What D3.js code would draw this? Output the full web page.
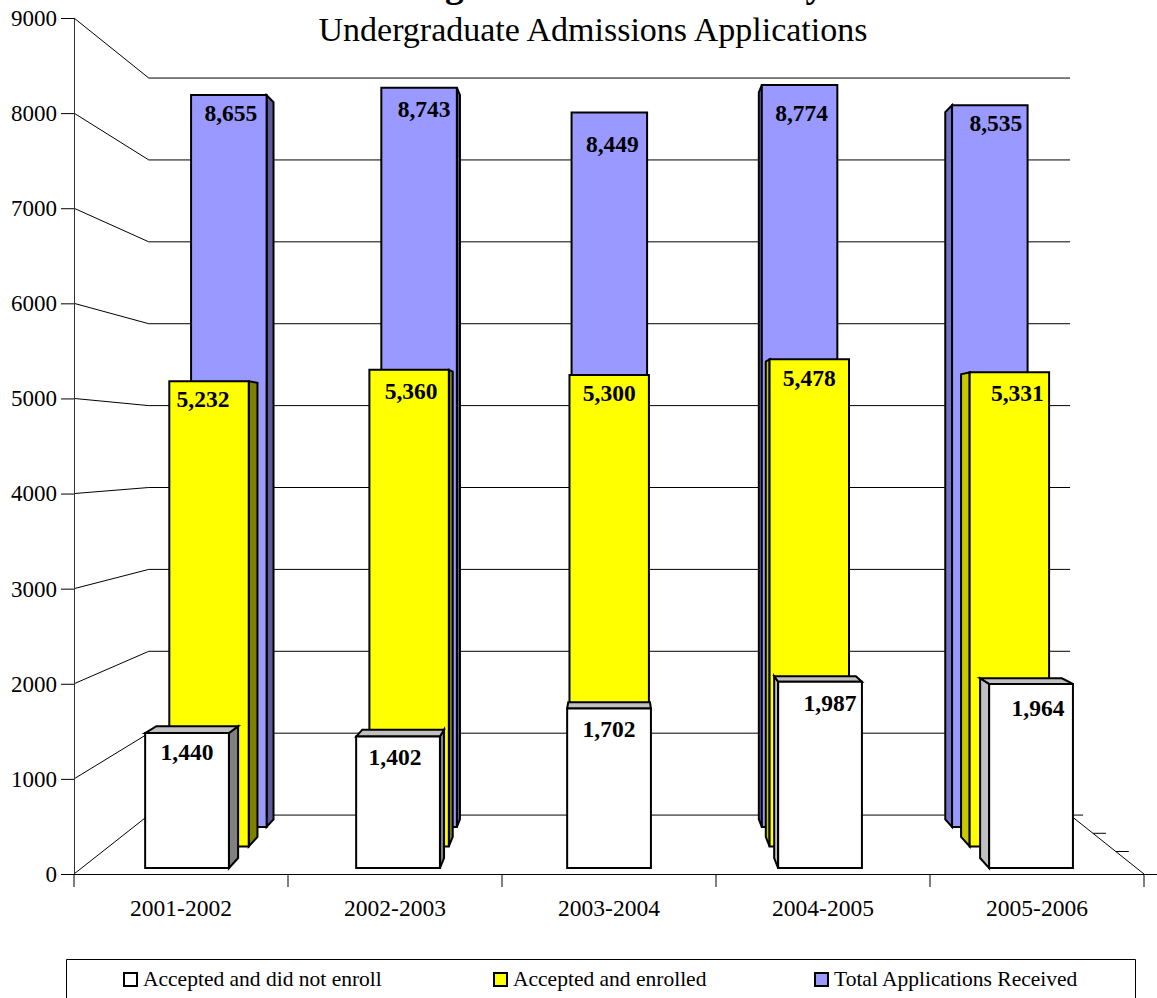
<!DOCTYPE html>
<html>
<head>
<meta charset="utf-8">
<title>Undergraduate Admissions Applications</title>
<script src="https://cdn.jsdelivr.net/npm/d3@7"></script>
<style>
  body { margin: 0; background: #fff; }
  svg { display: block; }
  text { font-family: "Liberation Serif", serif; fill: #000; }
</style>
</head>
<body>
<div id="chart"></div>
<script>
var titleLines = ["Youngstown State University", "Undergraduate Admissions Applications"];
var categories = ["2001-2002", "2002-2003", "2003-2004", "2004-2005", "2005-2006"];
var yTicks = [0, 1000, 2000, 3000, 4000, 5000, 6000, 7000, 8000, 9000];
var seriesNames = ["Accepted and did not enroll", "Accepted and enrolled", "Total Applications Received"];
var acceptedNotEnrolled = [1440, 1402, 1702, 1987, 1964];
var acceptedEnrolled = [5232, 5360, 5300, 5478, 5331];
var totalApplications = [8655, 8743, 8449, 8774, 8535];

// the labels in the original are not placed consistently, so each one gets a nudge from its bar top
var labelDx = [[0, -3, 0, 10, 7], [-6, 2, 0, 0, 8], [2, 5, 3, 2, 6]];
var labelDy = [[27, 28, 29, 29, 32], [26, 29, 26, 27, 29], [26, 29, 39, 36, 26]];

var svg = d3.select("#chart").append("svg").attr("width", 1157).attr("height", 998);

var x = d3.scaleBand().domain(categories).range([74, 1144]).paddingInner(0.603).paddingOuter(0.3015);
var y = d3.scaleLinear().domain([0, 9000]).range([874, 18]);

// perspective: everything shrinks towards this point as it moves back
var vanishX = 612, vanishY = 450;
var backWall = 0.861;
function project(px, py, s) {
  return [vanishX + s * (px - vanishX), vanishY + s * (py - vanishY)];
}
function poly(points) {
  return points.map(function(p) { return p.join(","); }).join(" ");
}

/* back wall, left wall and floor */
var walls = svg.append("g").attr("stroke", "#000").attr("stroke-width", 1).attr("fill", "none");
yTicks.forEach(function(v) {
  var b0 = project(74, y(v), backWall);
  var b1 = project(1144, y(v), backWall);
  if (v > 0) {
    walls.append("line").attr("x1", b0[0]).attr("y1", b0[1]).attr("x2", b1[0]).attr("y2", b1[1]);
  }
  walls.append("line").attr("x1", 74).attr("y1", y(v)).attr("x2", b0[0]).attr("y2", b0[1]);
});
var floorBack = project(74, y(0), backWall);
var floorBackRight = project(1144, y(0), backWall);
walls.append("line").attr("x1", floorBack[0]).attr("y1", floorBack[1]).attr("x2", floorBackRight[0]).attr("y2", floorBackRight[1]);
walls.append("line").attr("x1", 1144).attr("y1", y(0)).attr("x2", floorBackRight[0]).attr("y2", floorBackRight[1]);

// depth ticks on the right edge of the floor
[0.861, 0.904, 0.947].forEach(function(s) {
  var p = project(1144, y(0), s);
  walls.append("line").attr("x1", p[0]).attr("y1", p[1]).attr("x2", p[0] + 13).attr("y2", p[1]);
});

/* axes */
var yAxis = svg.append("g").attr("transform", "translate(74,0)")
  .call(d3.axisLeft(y).tickValues(yTicks).tickSize(13).tickPadding(4).tickSizeOuter(0).tickFormat(d3.format("d")));
yAxis.selectAll("text").attr("font-size", 23).attr("font-family", null);
yAxis.select(".domain").attr("stroke", "#333");

var xAxis = svg.append("g").attr("transform", "translate(0,874)")
  .call(d3.axisBottom(x).tickSize(0).tickPadding(25));
xAxis.select(".domain").remove();
xAxis.selectAll("text").attr("font-size", 23.5).attr("font-family", null);

svg.append("line").attr("x1", 61).attr("y1", 874.5).attr("x2", 1157).attr("y2", 874.5).attr("stroke", "#000");
d3.range(categories.length + 1).forEach(function(i) {
  var tx = 74 + i * x.step();
  svg.append("line").attr("x1", tx).attr("y1", 874).attr("x2", tx).attr("y2", 887).attr("stroke", "#000");
});

/* bars, back row first */
var rows = [
  { values: totalApplications, front: 0.889, depth: 0.98, fill: "#9999ff", right: "#5a5a9a", left: "#7373bf", index: 2 },
  { values: acceptedEnrolled, front: 0.935, depth: 0.976, fill: "#ffff00", right: "#808000", left: "#c8c800", index: 1 },
  { values: acceptedNotEnrolled, front: 0.986, depth: 0.976, fill: "#ffffff", right: "#808080", left: "#c0c0c0", index: 0 }
];

rows.forEach(function(row) {
  var g = svg.append("g").attr("stroke", "#000").attr("stroke-width", 2).attr("stroke-linejoin", "miter");
  categories.forEach(function(cat, i) {
    var v = row.values[i];
    var x0 = x(cat), x1 = x(cat) + x.bandwidth();
    var sF = row.front, sB = row.front * row.depth;
    var tl = project(x0, y(v), sF), tr = project(x1, y(v), sF);
    var bl = project(x0, y(0), sF), br = project(x1, y(0), sF);
    var tlB = project(x0, y(v), sB), trB = project(x1, y(v), sB);
    var blB = project(x0, y(0), sB), brB = project(x1, y(0), sB);

    if (tr[0] < vanishX - 1) {
      g.append("polygon").attr("points", poly([tr, trB, brB, br])).attr("fill", row.right);
    }
    if (tl[0] > vanishX + 1) {
      g.append("polygon").attr("points", poly([tl, tlB, blB, bl])).attr("fill", row.left);
    }
    if (tl[1] > vanishY) {
      g.append("polygon").attr("points", poly([tl, tlB, trB, tr])).attr("fill", "#c0c0c0");
    }
    g.append("polygon").attr("points", poly([tl, tr, br, bl])).attr("fill", row.fill);
  });
});

/* value labels */
rows.forEach(function(row) {
  categories.forEach(function(cat, i) {
    var v = row.values[i];
    var top = project(x(cat) + x.bandwidth() / 2, y(v), row.front);
    svg.append("text")
      .attr("x", top[0] + labelDx[row.index][i])
      .attr("y", top[1] + labelDy[row.index][i])
      .attr("text-anchor", "middle")
      .attr("font-size", 23.5)
      .attr("font-weight", "bold")
      .text(d3.format(",")(v));
  });
});

/* title, first line runs off the top of the page like the original */
svg.append("text").attr("x", 593).attr("y", -3).attr("text-anchor", "middle")
  .attr("font-size", 37.5).attr("font-weight", "bold").text(titleLines[0]);
svg.append("text").attr("x", 593).attr("y", 41).attr("text-anchor", "middle")
  .attr("font-size", 34).text(titleLines[1]);

/* legend, cut off by the bottom of the page */
svg.append("path").attr("d", "M66.5,998V959.5H1135.5V998").attr("fill", "none").attr("stroke", "#000");
var legendX = [124, 494, 815];
var legendFill = ["#ffffff", "#ffff00", "#9999ff"];
seriesNames.forEach(function(name, i) {
  svg.append("rect").attr("x", legendX[i]).attr("y", 973).attr("width", 13).attr("height", 13)
    .attr("fill", legendFill[i]).attr("stroke", "#000").attr("stroke-width", 2);
  svg.append("text").attr("x", legendX[i] + 19).attr("y", 986).attr("font-size", 21.5).text(name);
});
</script>
</body>
</html>
